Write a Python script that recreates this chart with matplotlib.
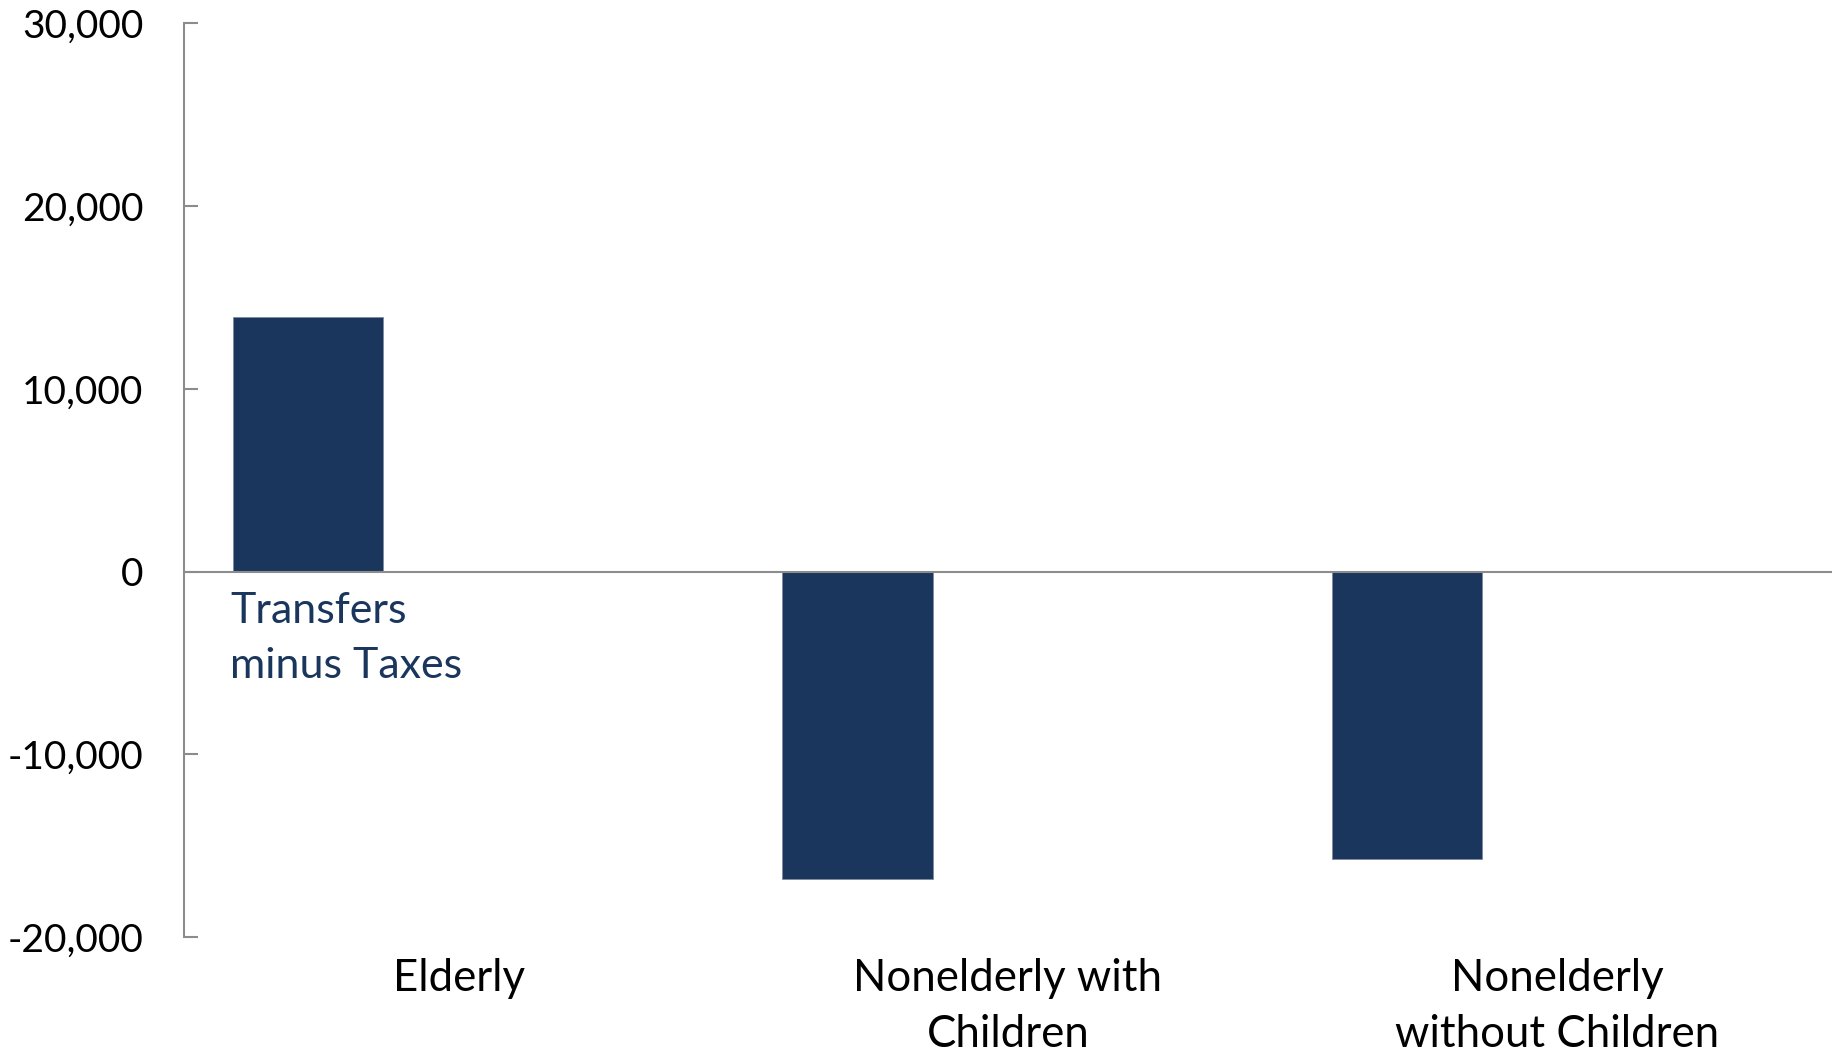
import matplotlib.pyplot as plt
import numpy as np

plt.rcParams['font.family'] = ['Lato', 'DejaVu Sans']

categories = ['Elderly', 'Nonelderly with\nChildren', 'Nonelderly\nwithout Children']
transfers_minus_taxes = [13900, -16800, -15700]
series_label = 'Transfers\nminus Taxes'
yticks = [-20000, -10000, 0, 10000, 20000, 30000]

navy = '#1b365d'
grey = '#8c8c8c'

fig = plt.figure(figsize=(18.39, 10.53), dpi=100)
ax = fig.add_axes([0.1, 0.110, 0.896, 0.868])

x = np.arange(len(categories))
w = 0.2735
ax.bar(x - w, transfers_minus_taxes, width=w, color=navy, edgecolor='#7f8a9c', linewidth=0.6, zorder=2)
ax.axhline(0, color=grey, linewidth=1.5, zorder=3)

ax.text(x[0] - 1.5 * w - 0.005, -3650, series_label, color=navy, fontsize=31,
        ha='left', va='center', linespacing=1.53)

ax.set_xlim(-0.5, 2.5)
ax.set_ylim(-20000, 30000)
ax.set_yticks(yticks)
ax.set_yticklabels([f'{v:,}' for v in yticks])
ax.set_xticks(x)
ax.set_xticklabels(categories, linespacing=1.45)

for s in ['top', 'right', 'bottom']:
    ax.spines[s].set_visible(False)
ax.spines['left'].set_color(grey)
ax.spines['left'].set_linewidth(1.5)

ax.tick_params(axis='y', direction='in', length=10, width=1.5, color=grey, pad=29, labelsize=28)
ax.tick_params(axis='x', length=0, pad=15, labelsize=31.5)

fig.savefig('out.png', dpi=100)
